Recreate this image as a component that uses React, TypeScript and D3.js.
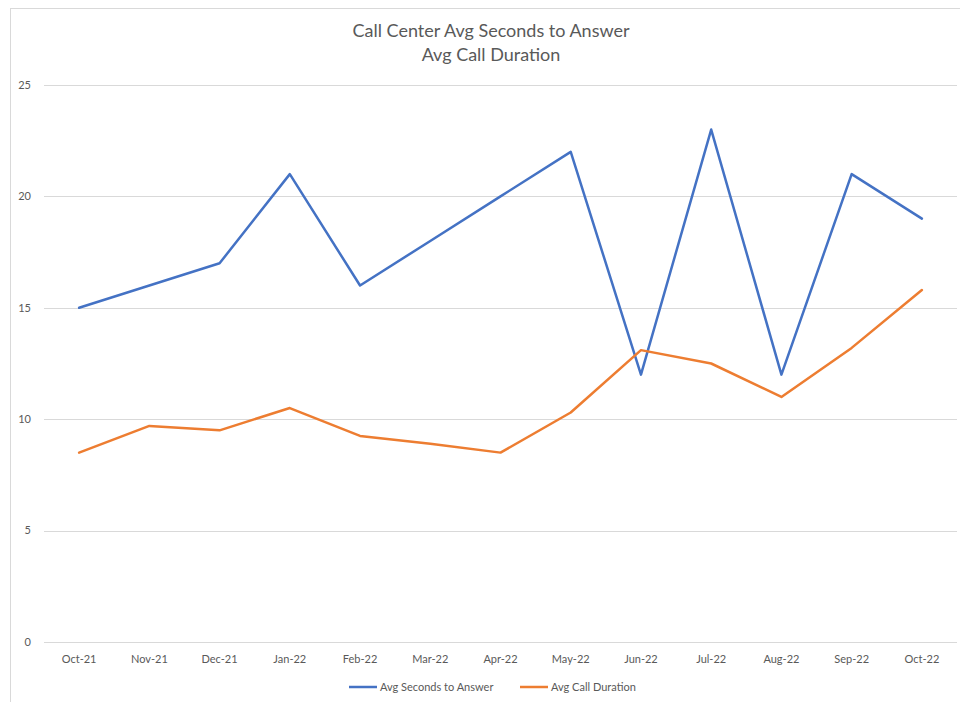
import * as d3 from "d3";
import React, { useEffect, useRef } from "react";

const months = ["Oct-21", "Nov-21", "Dec-21", "Jan-22", "Feb-22", "Mar-22", "Apr-22", "May-22", "Jun-22", "Jul-22", "Aug-22", "Sep-22", "Oct-22"];
const secondsToAnswer = [15, 16, 17, 21, 16, 18, 20, 22, 12, 23, 12, 21, 19];
const callDuration = [8.5, 9.7, 9.5, 10.5, 9.25, 8.9, 8.5, 10.3, 13.1, 12.5, 11, 13.2, 15.8];
const yTicks = [0, 5, 10, 15, 20, 25];
const titleLines = ["Call Center Avg Seconds to Answer", "Avg Call Duration"];
const seriesNames = ["Avg Seconds to Answer", "Avg Call Duration"];
const colors = ["#4472C4", "#ED7D31"];

const font = "Lato, 'Open Sans', sans-serif";

function InitChart(svgRef: React.RefObject<SVGSVGElement>) {
    const fullwidth = 960;
    const fullheight = 702;
    let margin = { top: 85, right: 3, bottom: 60, left: 44 };

    let svg = d3.select(svgRef.current)
        .attr("width", fullwidth)
        .attr("height", fullheight);
    svg.selectAll("*").remove();

    // chart frame
    svg.append("rect")
        .attr("x", 10.5).attr("y", 8.5)
        .attr("width", 960).attr("height", 710)
        .attr("fill", "#fff").attr("stroke", "#d9d9d9");

    let xScale = d3.scalePoint<string>()
        .domain(months)
        .range([margin.left, fullwidth - margin.right])
        .padding(0.5);

    let yScale = d3.scaleLinear()
        .domain([0, 25])
        .range([642, margin.top]);

    // gridlines
    svg.append("g").selectAll("line")
        .data(yTicks)
        .join("line")
        .attr("x1", margin.left).attr("x2", fullwidth - margin.right)
        .attr("y1", d => Math.round(yScale(d)) + 0.5)
        .attr("y2", d => Math.round(yScale(d)) + 0.5)
        .attr("stroke", "#d9d9d9").attr("stroke-width", 1);

    // y labels
    svg.append("g").selectAll("text")
        .data(yTicks)
        .join("text")
        .attr("x", 31).attr("y", d => yScale(d))
        .attr("dy", "0.35em")
        .attr("text-anchor", "end")
        .attr("font-family", font).attr("font-size", 11)
        .attr("fill", "#595959")
        .text(d => d);

    // x labels
    svg.append("g").selectAll("text")
        .data(months)
        .join("text")
        .attr("x", d => xScale(d)!).attr("y", 663)
        .attr("text-anchor", "middle")
        .attr("font-family", font).attr("font-size", 11)
        .attr("fill", "#595959")
        .text(d => d);

    let line = d3.line<number>()
        .x((d, i) => xScale(months[i])!)
        .y(d => yScale(d));

    [secondsToAnswer, callDuration].forEach((s, i) => {
        svg.append("path")
            .datum(s)
            .attr("d", line)
            .attr("fill", "none")
            .attr("stroke", colors[i])
            .attr("stroke-width", 2.5)
            .attr("stroke-linejoin", "round")
            .attr("stroke-linecap", "round");
    });

    // title
    svg.append("g").selectAll("text")
        .data(titleLines)
        .join("text")
        .attr("x", 491).attr("y", (d, i) => 37 + i * 24)
        .attr("text-anchor", "middle")
        .attr("font-family", font).attr("font-size", 18)
        .attr("fill", "#595959")
        .text(d => d);

    // legend
    let legendX = [349, 520];
    let legend = svg.append("g").selectAll("g")
        .data(seriesNames)
        .join("g")
        .attr("transform", (d, i) => "translate(" + legendX[i] + ",687)");
    legend.append("line")
        .attr("x1", 0).attr("x2", 28)
        .attr("stroke", (d, i) => colors[i]).attr("stroke-width", 2.5);
    legend.append("text")
        .attr("x", 31).attr("dy", "0.35em")
        .attr("font-family", font).attr("font-size", 11)
        .attr("fill", "#595959")
        .text(d => d);
}

export default function App() {
    const svg = useRef<SVGSVGElement>(null);
    useEffect(() => {
        InitChart(svg);
    }, []);
    return <svg ref={svg} style={{ position: "absolute", left: 0, top: 0, background: "#fff" }}></svg>;
}
